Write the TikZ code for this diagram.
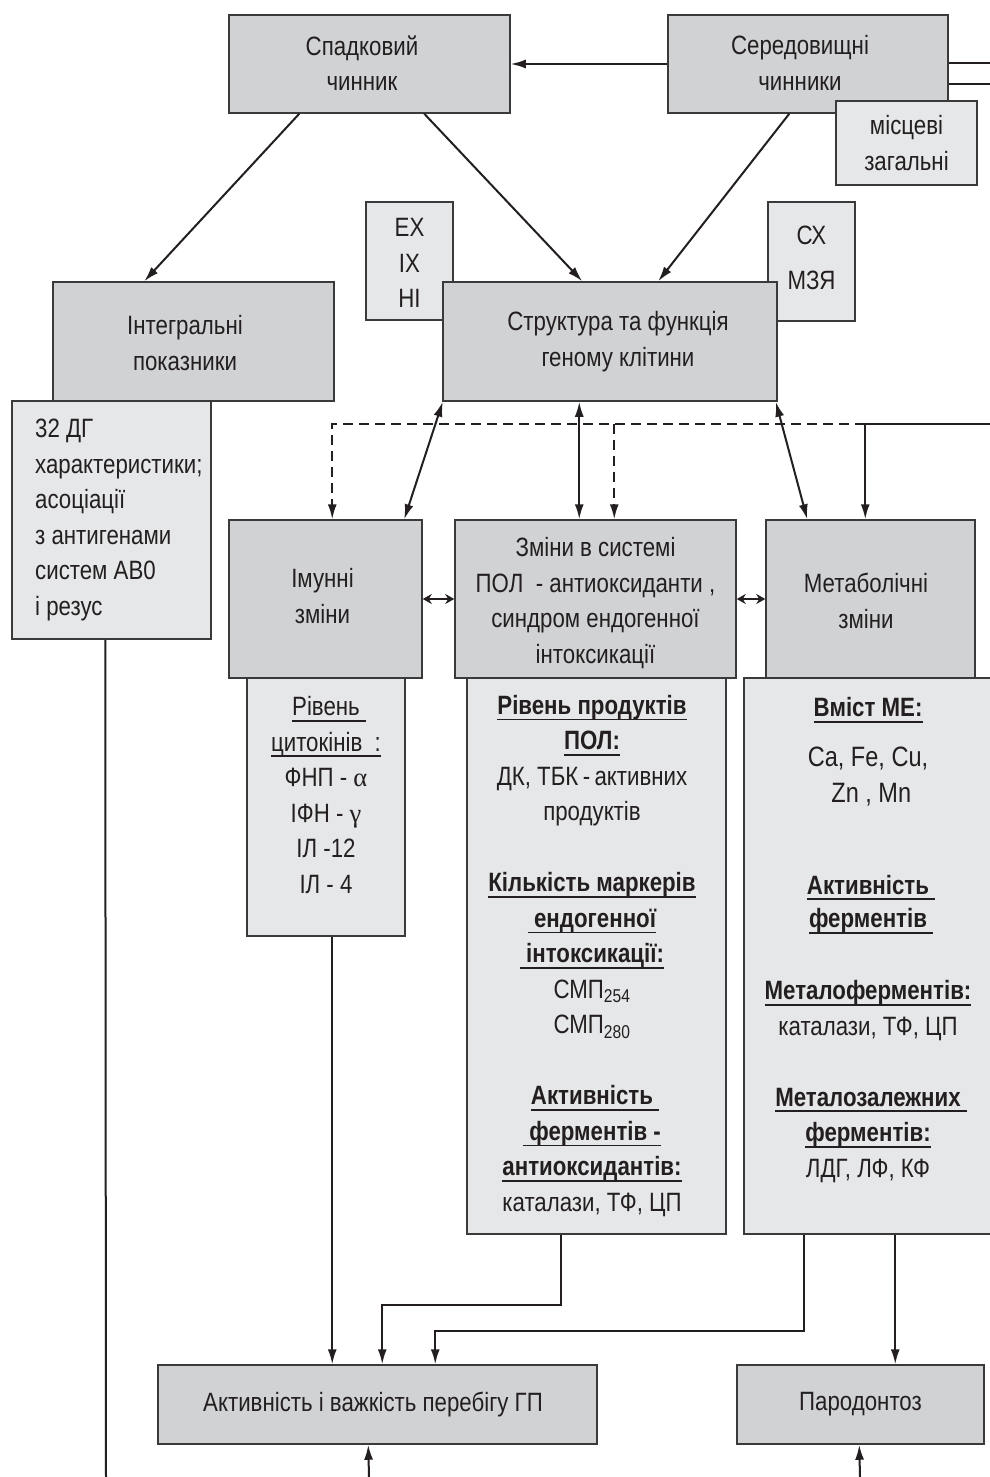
\documentclass[tikz,border=0pt]{standalone}
\usepackage{fontspec}
\setmainfont[FakeStretch=0.84]{Liberation Sans}
\newfontfamily\grk{Liberation Serif}
\usetikzlibrary{arrows.meta}
\definecolor{darkfill}{HTML}{D1D2D4}
\definecolor{lightfill}{HTML}{E6E7E8}
\definecolor{edgecol}{HTML}{3A3A3A}
\definecolor{inkcol}{HTML}{231F20}
\newlength\ulw
\newcommand\hul[1]{\settowidth\ulw{#1}\rlap{\rule[-0.22em]{\ulw}{0.06em}}#1}
\begin{document}
\begin{tikzpicture}[x=1pt,y=-1pt,
  box/.style={draw=edgecol, line width=1.5pt, inner sep=0pt, align=center,
    font=\fontsize{26.5}{35.5}\selectfont, text=inkcol},
  darkbox/.style={box, fill=darkfill},
  lightbox/.style={box, fill=lightfill},
  txt/.style={inner sep=0pt, align=center, font=\fontsize{26.5}{35.5}\selectfont, text=inkcol},
  line/.style={line width=2pt, draw=inkcol},
  conn/.style={line, -{Latex[length=15pt,width=9pt]}},
  bconn/.style={line, {Latex[length=15pt,width=9pt]}-{Latex[length=15pt,width=9pt]}},
  dconn/.style={conn, dash pattern=on 10pt off 6pt},
  sconn/.style={line width=1.6pt, draw=inkcol, {Stealth[length=9pt,width=10pt]}-{Stealth[length=9pt,width=10pt]}}
]
\clip (0,0) rectangle (990,1477);
\fill[white] (0,0) rectangle (990,1477);

% top row
\node[darkbox, minimum width=281pt, minimum height=98pt] (spad) at (369.5,64) {};
\node[txt] (spadt) at (362,63) {Спадковий\\чинник};
\node[darkbox, minimum width=280pt, minimum height=98pt] (ser) at (808,64) {};
\node[txt] (sert) at (800,63) {Середовищні\\чинники};
\node[lightbox, minimum width=141pt, minimum height=84pt] (misc) at (906.5,143) {місцеві\\загальні};

% side boxes behind structure
\node[lightbox, minimum width=87pt, minimum height=118pt] (exb) at (409.5,261) {};
\node[txt] (ext) at (409.5,263) {EX\\IX\\HI};
\node[lightbox, minimum width=87pt, minimum height=119pt] (sxb) at (811.5,261.5) {};
\node[txt] (sxt) at (811.5,258) {СХ\\[9pt]МЗЯ};
\node[darkbox, minimum width=334pt, minimum height=119pt] (str) at (610,341.5) {};
\node[txt] (strt) at (618,341.5) {Структура та функція\\геному клітини};

% integral
\node[darkbox, minimum width=281pt, minimum height=119pt] (integ) at (193.5,341.5) {};
\node[txt] (integt) at (185,343) {Інтегральні\\показники};
\node[lightbox, minimum width=199pt, minimum height=238pt] (dgb) at (111.5,520) {};
\node[txt, anchor=west, align=left] (dgt) at (35,520) {32 ДГ\\характеристики;\\асоціації\\з антигенами\\систем АВ0\\і резус};

% middle row
\node[darkbox, minimum width=193pt, minimum height=158pt] (imm) at (325.5,599) {};
\node[txt] (immt) at (322.5,596) {Імунні\\зміни};
\node[darkbox, minimum width=281pt, minimum height=158pt] (zm) at (595.5,599) {};
\node[txt] (zmtx) at (595.5,603) {Зміни в системі\\ПОЛ~ - антиоксиданти ,\\синдром ендогенної\\інтоксикації};
\node[darkbox, minimum width=209pt, minimum height=158pt] (met) at (870.5,599) {};
\node[txt] (mett0) at (866,601) {Метаболічні\\зміни};

% detail boxes
\node[lightbox, minimum width=158pt, minimum height=258pt] (imd) at (326,807) {};
\node[txt] (imt) at (326,795) {\hul{Рівень\ }\\\hul{цитокінів~ :}\\ФНП - {\grk α}\\ІФН - {\grk γ}\\ІЛ -12\\ІЛ - 4};

\node[lightbox, minimum width=259pt, minimum height=556pt] (zmd) at (596.5,956) {};
\node[txt] (zmt) at (592,956) {\bfseries\hul{Рівень продуктів}\\\bfseries\hul{ПОЛ:}\\ДК, ТБК\,-\,активних\\продуктів\\[35.5pt]
\bfseries\hul{Кількість маркерів}\\\bfseries\hul{ ендогенної}\\\bfseries\hul{ інтоксикації:}\\СМП\textsubscript{254}\\СМП\textsubscript{280}\\[35.5pt]
\bfseries\hul{Активність\ }\\\bfseries\hul{ ферментів -}\\\bfseries\hul{антиоксидантів:}\\каталази, ТФ, ЦП};

\node[lightbox, minimum width=256pt, minimum height=556pt] (metd) at (872,956) {};
\node[txt] (mett) at (868,940) {\bfseries\hul{Вміст МЕ:}\\[14.5pt]{\fontsize{28}{35.5}\selectfont Ca, Fe, Cu,}\\{\fontsize{28}{35.5}\selectfont \ Zn , Mn}\\[56.5pt]
\bfseries\hul{Активність\ }\\[-2pt]\bfseries\hul{ферментів\ }\\[36.5pt]
\bfseries\hul{Металоферментів:}\\каталази, ТФ, ЦП\\[35.5pt]
\bfseries\hul{Металозалежних\ }\\\bfseries\hul{ферментів:}\\ЛДГ, ЛФ, КФ};

% bottom row
\node[darkbox, minimum width=439pt, minimum height=79pt] (act) at (377.5,1404.5) {};
\node[txt] (actt) at (373,1404.5) {Активність і важкість перебігу ГП};
\node[darkbox, minimum width=247pt, minimum height=79pt] (par) at (860.5,1404.5) {Пародонтоз};

% free ends
\coordinate (r1) at (990,63);
\coordinate (r2) at (990,84);
\coordinate (r3) at (990,424);
\coordinate (b1) at (106,1477);
\coordinate (b2) at (369,1477);
\coordinate (b3) at (860,1477);

% top connectors
\draw[conn] (ser.west) -- (spad.east);
\draw[line] (r1 -| ser.east) -- (r1);
\draw[line] (r2 -| ser.east) -- (r2);
\draw[conn] ([xshift=71pt]spad.south west) -- ([xshift=92pt]integ.north west);
\draw[conn] ([xshift=196pt]spad.south west) -- ([xshift=140pt]str.north west);
\draw[conn] ([xshift=122pt]ser.south west) -- ([xshift=216pt]str.north west);

% structure to middle row
\draw[bconn] ([xshift=0.5pt]str.south west) -- ([xshift=176pt]imm.north west);
\draw[bconn] ([xshift=137pt]str.south west) -- ([xshift=125pt]zm.north west);
\draw[bconn] ([xshift=-2pt]str.south east) -- ([xshift=42pt]met.north west);
\draw[conn] (r3) -| ([xshift=100pt]met.north west);
\draw[dconn] ([xshift=100pt]met.north west |- r3) -| ([xshift=104pt]imm.north west);
\draw[dconn] ([xshift=160pt]zm.north west |- r3) -- ([xshift=160pt]zm.north west);
\draw[sconn] (imm.east) -- (zm.west);
\draw[sconn] (zm.east) -- (met.west);

% lower connectors
\draw[line] ([xshift=94pt]dgb.south west) -- (b1);
\draw[conn] ([xshift=86pt]imd.south west) -- ([xshift=175pt]act.north west);
\draw[conn] ([xshift=95pt]zmd.south west) -- ++(0,70) -| ([xshift=225pt]act.north west);
\draw[conn] ([xshift=61pt]metd.south west) -- ++(0,96) -| ([xshift=278pt]act.north west);
\draw[conn] ([xshift=152pt]metd.south west) -- ([xshift=159pt]par.north west);
\draw[conn] (b2) -- ([xshift=211pt]act.south west);
\draw[conn] (b3) -- ([xshift=123pt]par.south west);
\end{tikzpicture}
\end{document}
